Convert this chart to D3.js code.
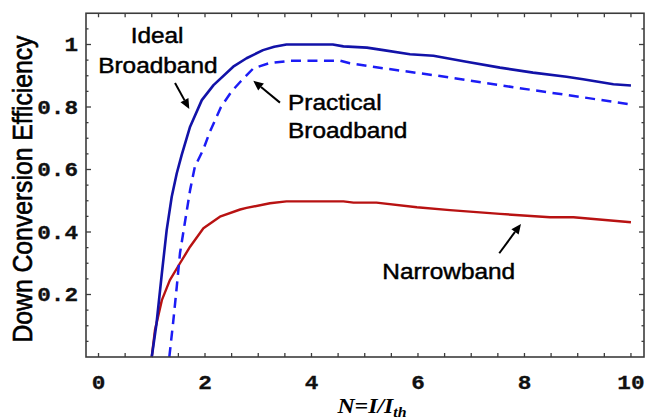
<!DOCTYPE html>
<html>
<head>
<meta charset="utf-8">
<script src="https://cdn.jsdelivr.net/npm/d3@7"></script>
<style>
  html, body { margin: 0; padding: 0; background: #ffffff; }
  svg { display: block; }
</style>
</head>
<body>
<svg id="chart" width="649" height="420"></svg>
<script>
// Down-conversion efficiency versus normalized pump intensity N = I/I_th
const idealN   = [1, 1.09, 1.19, 1.28, 1.375, 1.47, 1.56, 1.72, 1.94, 2.16, 2.53, 2.78, 3.09, 3.3, 3.53, 4.4, 4.6, 5.04, 5.35, 5.85, 6.29, 6.91, 7.54, 8.16, 8.79, 9.1, 9.67, 10];
const idealEff = [0, 0.108, 0.268, 0.406, 0.513, 0.588, 0.645, 0.737, 0.822, 0.870, 0.929, 0.956, 0.982, 0.993, 1.0, 1.0, 0.994, 0.99, 0.982, 0.969, 0.964, 0.945, 0.926, 0.91, 0.897, 0.889, 0.873, 0.869];

const practicalN   = [1.33, 1.40, 1.47, 1.53, 1.62, 1.72, 1.81, 1.97, 2.09, 2.3, 2.5, 2.66, 2.91, 3.2, 3.6, 4.54, 4.72, 5.35, 6.29, 7.22, 8.16, 9.1, 10];
const practicalEff = [0, 0.108, 0.225, 0.332, 0.428, 0.534, 0.609, 0.665, 0.72, 0.80, 0.85, 0.88, 0.924, 0.94, 0.948, 0.948, 0.94, 0.924, 0.902, 0.878, 0.854, 0.831, 0.808];

const narrowN   = [1, 1.06, 1.19, 1.34, 1.53, 1.72, 1.97, 2.28, 2.66, 2.78, 3.22, 3.53, 4.6, 4.79, 5.22, 5.98, 6.6, 7.54, 8.48, 8.92, 10];
const narrowEff = [0, 0.086, 0.182, 0.246, 0.30, 0.353, 0.412, 0.449, 0.472, 0.477, 0.492, 0.498, 0.498, 0.494, 0.494, 0.479, 0.47, 0.458, 0.447, 0.447, 0.431];

const xTickLabels = [0, 2, 4, 6, 8, 10];
const yTickLabels = [0.2, 0.4, 0.6, 0.8, 1];

// text labels and the arrows pointing at each curve (data coordinates)
const labelLines = [
  { text: "Ideal",      n: 1.10,  eff: 1.005, anchor: "middle" },
  { text: "Broadband",  n: 1.115, eff: 0.909, anchor: "middle" },
  { text: "Practical",  n: 3.56,  eff: 0.790, anchor: "start" },
  { text: "Broadband",  n: 3.56,  eff: 0.701, anchor: "start" },
  { text: "Narrowband", n: 5.33,  eff: 0.250, anchor: "start" }
];
const arrowFrom = [[1.437, 0.877], [3.408, 0.814], [7.527, 0.332]];
const arrowTo   = [[1.705, 0.794], [2.907, 0.884], [7.934, 0.426]];

const svg = d3.select("#chart");
const frame = { left: 86, right: 644, top: 13.25, bottom: 357 };
const sx = 1.135; // horizontal widening applied to glyphs

const x = d3.scaleLinear().domain([-0.235, 10.245]).range([frame.left, frame.right]);
const y = d3.scaleLinear().domain([0, 1.1]).range([frame.bottom, frame.top]);

const axisColor = "#3c3c3c";

// inward ticks on all four sides
const xt = d3.range(0, 10.001, 0.5);
const yt = d3.range(0.05, 1.0751, 0.05);
const isMajorY = v => Math.abs(v * 5 - Math.round(v * 5)) < 1e-6;

const ticks = svg.append("g").attr("stroke", axisColor).attr("stroke-width", 1.3);
xt.forEach(v => {
  ticks.append("line").attr("x1", x(v)).attr("x2", x(v)).attr("y1", frame.bottom).attr("y2", frame.bottom - 4);
  ticks.append("line").attr("x1", x(v)).attr("x2", x(v)).attr("y1", frame.top).attr("y2", frame.top + 4);
});
yt.forEach(v => {
  const len = isMajorY(v) ? 5 : 2.5;
  ticks.append("line").attr("y1", y(v)).attr("y2", y(v)).attr("x1", frame.left).attr("x2", frame.left + len);
  ticks.append("line").attr("y1", y(v)).attr("y2", y(v)).attr("x1", frame.right).attr("x2", frame.right - len);
});

// curves
const line = d3.line().x(d => x(d[0])).y(d => y(d[1]));
const plot = svg.append("g").attr("fill", "none").attr("stroke-linejoin", "round");

plot.append("path")
  .attr("d", line(narrowN.map((n, i) => [n, narrowEff[i]])))
  .attr("stroke", "#b81212").attr("stroke-width", 2.4);

plot.append("path")
  .attr("d", line(practicalN.map((n, i) => [n, practicalEff[i]])))
  .attr("stroke", "#1c1cf5").attr("stroke-width", 2.5)
  .attr("stroke-dasharray", "10,6.5");

plot.append("path")
  .attr("d", line(idealN.map((n, i) => [n, idealEff[i]])))
  .attr("stroke", "#1212a8").attr("stroke-width", 2.6);

// frame
svg.append("rect")
  .attr("x", frame.left).attr("y", frame.top)
  .attr("width", frame.right - frame.left).attr("height", frame.bottom - frame.top)
  .attr("fill", "none").attr("stroke", axisColor).attr("stroke-width", 1.6);

// tick labels
const mono = "'Liberation Mono', 'Courier New', monospace";
xTickLabels.forEach(v => {
  svg.append("text")
    .attr("transform", `translate(${x(v)},389) scale(${sx},1)`)
    .attr("text-anchor", "middle")
    .attr("font-family", mono).attr("font-weight", "bold").attr("font-size", 20)
    .attr("fill", "#111").attr("stroke", "#111").attr("stroke-width", 0.3)
    .text(v);
});
yTickLabels.forEach(v => {
  svg.append("text")
    .attr("transform", `translate(78,${y(v) + 6.5}) scale(${sx},1)`)
    .attr("text-anchor", "end")
    .attr("font-family", mono).attr("font-weight", "bold").attr("font-size", 20)
    .attr("fill", "#111").attr("stroke", "#111").attr("stroke-width", 0.3)
    .text(v);
});

// axis titles
const sans = "'Liberation Sans', Arial, Helvetica, sans-serif";
svg.append("text")
  .attr("transform", `translate(32,189) scale(${sx},1) rotate(-90)`)
  .attr("text-anchor", "middle")
  .attr("font-family", sans).attr("font-size", 24.7)
  .attr("fill", "#000").attr("stroke", "#000").attr("stroke-width", 0.55)
  .text("Down Conversion Efficiency");

const xTitle = svg.append("text")
  .attr("transform", `translate(372,413) scale(${sx},1)`)
  .attr("text-anchor", "middle")
  .attr("font-family", "'Liberation Serif', 'Times New Roman', serif")
  .attr("font-weight", "bold").attr("font-style", "italic").attr("font-size", 21)
  .attr("fill", "#000");
xTitle.append("tspan").text("N=I/I");
xTitle.append("tspan").attr("font-size", 14).attr("dy", 4).text("th");

// curve labels
labelLines.forEach(l => {
  svg.append("text")
    .attr("transform", `translate(${x(l.n)},${y(l.eff)}) scale(${sx},1)`)
    .attr("text-anchor", l.anchor)
    .attr("font-family", sans).attr("font-size", 21.5)
    .attr("fill", "#000").attr("stroke", "#000").attr("stroke-width", 0.45)
    .text(l.text);
});

// arrows
const arrows = svg.append("g");
arrowFrom.forEach((from, i) => {
  const to = arrowTo[i];
  const x1 = x(from[0]), y1 = y(from[1]), x2 = x(to[0]), y2 = y(to[1]);
  const ang = Math.atan2(y2 - y1, x2 - x1);
  const headLen = 10, headHalf = 4.5;
  const bx = x2 - headLen * Math.cos(ang), by = y2 - headLen * Math.sin(ang);
  arrows.append("line")
    .attr("x1", x1).attr("y1", y1).attr("x2", bx).attr("y2", by)
    .attr("stroke", "#000").attr("stroke-width", 2);
  const px = -Math.sin(ang), py = Math.cos(ang);
  arrows.append("path")
    .attr("d", `M${x2},${y2}L${bx + headHalf * px},${by + headHalf * py}L${bx - headHalf * px},${by - headHalf * py}Z`)
    .attr("fill", "#000");
});
</script>
</body>
</html>
